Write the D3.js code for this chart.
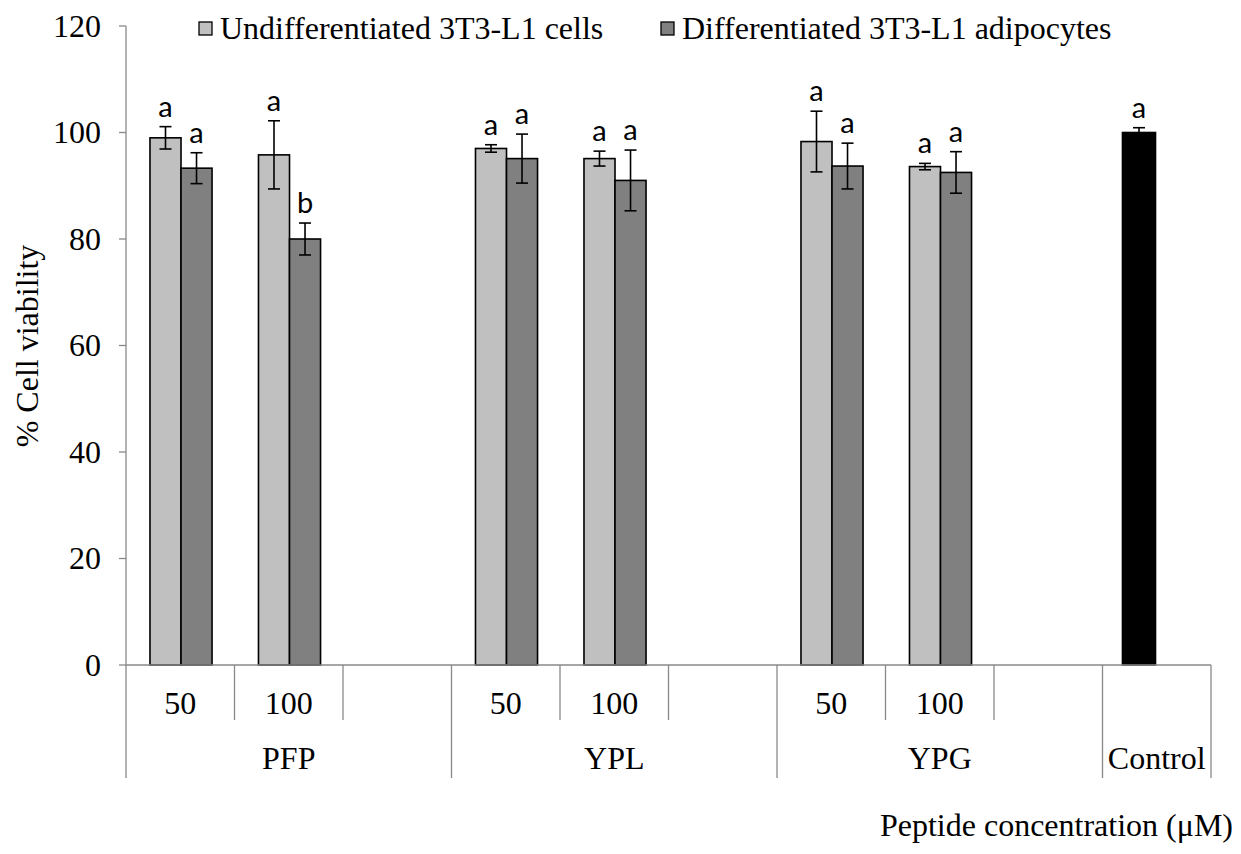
<!DOCTYPE html>
<html>
<head>
<meta charset="utf-8">
<script src="https://cdn.jsdelivr.net/npm/d3@7"></script>
<style>
  html, body { margin: 0; padding: 0; background: #fff; }
  svg { display: block; }
</style>
</head>
<body>
<svg id="chart" width="1241" height="854"></svg>
<script>
// Peptide treatments and concentrations (µM)
const peptides = ["PFP", "YPL", "YPG"];
const concentrations = ["50", "100"];
const seriesNames = ["Undifferentiated 3T3-L1 cells", "Differentiated 3T3-L1 adipocytes"];

// Mean % viability per peptide/concentration, order: PFP50, PFP100, YPL50, YPL100, YPG50, YPG100
const undiffValues = [99.0, 95.8, 97.0, 95.1, 98.3, 93.6];
const undiffErrors = [2.1, 6.4, 0.7, 1.4, 5.7, 0.6];
const undiffLetters = ["a", "a", "a", "a", "a", "a"];
const diffValues = [93.3, 80.0, 95.1, 91.0, 93.7, 92.5];
const diffErrors = [2.9, 3.0, 4.6, 5.7, 4.3, 3.9];
const diffLetters = ["a", "b", "a", "a", "a", "a"];

// Untreated control
const controlValue = 100.0;
const controlError = 0.9;
const controlLetter = "a";

const yTicks = [0, 20, 40, 60, 80, 100, 120];

const svg = d3.select("#chart");
const serif = "'Liberation Serif', 'Times New Roman', serif";
const letterFont = "Lato, 'Open Sans', sans-serif";
const axisColor = "#898989";
const fs = "32px";

const plotLeft = 126, plotRight = 1211, plotTop = 26, plotBottom = 665;

// One slot per concentration plus an empty spacer slot per peptide, then the control slot
const slots = [];
peptides.forEach(p => {
  concentrations.forEach(c => slots.push({ key: p + "-" + c, peptide: p, conc: c }));
  slots.push({ key: p + "-gap", peptide: p, conc: null });
});
slots.push({ key: "Control", peptide: "Control", conc: null });

const x = d3.scaleBand().domain(slots.map(d => d.key)).range([plotLeft, plotRight]).padding(0);
const y = d3.scaleLinear().domain([0, 120]).range([plotBottom, plotTop]);
const bw = x.bandwidth();
const inner = d3.scaleBand().domain(["u", "d"]).range([bw * 0.221, bw * 0.793]).padding(0);

// Build bar records
const bars = [];
let i = 0;
peptides.forEach(p => {
  concentrations.forEach(c => {
    const key = p + "-" + c;
    bars.push({ slot: key, s: "u", v: undiffValues[i], e: undiffErrors[i], l: undiffLetters[i], fill: "#c0c0c0" });
    bars.push({ slot: key, s: "d", v: diffValues[i], e: diffErrors[i], l: diffLetters[i], fill: "#808080" });
    i++;
  });
});
bars.push({ slot: "Control", s: "u", v: controlValue, e: controlError, l: controlLetter, fill: "#000000", control: true });

const bx = d => x(d.slot) + inner(d.s) + (d.control ? -4 : 0);
const bwid = d => inner.bandwidth() + (d.control ? 2 : 0);

// Y axis
const yAxis = svg.append("g");
yAxis.append("line")
  .attr("x1", plotLeft).attr("x2", plotLeft).attr("y1", y(120)).attr("y2", y(0))
  .attr("stroke", axisColor).attr("stroke-width", 1.3);
yAxis.selectAll("line.tick").data(yTicks).join("line").attr("class", "tick")
  .attr("x1", plotLeft - 7).attr("x2", plotLeft).attr("y1", d => y(d)).attr("y2", d => y(d))
  .attr("stroke", axisColor).attr("stroke-width", 1.3);
yAxis.selectAll("text").data(yTicks).join("text")
  .attr("x", 101).attr("y", d => y(d)).attr("dy", "0.33em")
  .attr("text-anchor", "end")
  .style("font-family", serif).style("font-size", fs).attr("fill", "#000")
  .text(d => d);

// Y axis title
svg.append("text")
  .attr("transform", "translate(38,346) rotate(-90)")
  .attr("text-anchor", "middle")
  .style("font-family", serif).style("font-size", fs)
  .text("% Cell viability");

// Bars
svg.append("g").selectAll("rect").data(bars).join("rect")
  .attr("x", bx).attr("width", bwid)
  .attr("y", d => y(d.v)).attr("height", d => y(0) - y(d.v))
  .attr("fill", d => d.fill).attr("stroke", "#000").attr("stroke-width", 1.6);

// Error bars
const eg = svg.append("g").attr("stroke", "#000").attr("stroke-width", 1.6);
bars.forEach(d => {
  const cx = bx(d) + bwid(d) / 2;
  eg.append("line").attr("x1", cx).attr("x2", cx).attr("y1", y(d.v + d.e)).attr("y2", y(d.v - d.e));
  eg.append("line").attr("x1", cx - 6).attr("x2", cx + 6).attr("y1", y(d.v + d.e)).attr("y2", y(d.v + d.e));
  eg.append("line").attr("x1", cx - 6).attr("x2", cx + 6).attr("y1", y(d.v - d.e)).attr("y2", y(d.v - d.e));
});

// Significance letters
svg.append("g").selectAll("text").data(bars).join("text")
  .attr("x", d => bx(d) + bwid(d) / 2)
  .attr("y", d => y(d.v + d.e) - 10)
  .attr("text-anchor", "middle")
  .style("font-family", letterFont).style("font-size", "29px").attr("fill", "#000")
  .text(d => d.l);

// X axis line
svg.append("line")
  .attr("x1", plotLeft).attr("x2", plotRight).attr("y1", plotBottom).attr("y2", plotBottom)
  .attr("stroke", axisColor).attr("stroke-width", 1.3);

// Multi-level category separators
const sep = svg.append("g").attr("stroke", axisColor).attr("stroke-width", 1.3);
const groupEdges = [plotLeft];
slots.forEach((s, k) => {
  const xe = x(s.key) + bw;
  const next = slots[k + 1];
  if (!next || next.peptide !== s.peptide) groupEdges.push(xe);
  else sep.append("line").attr("x1", xe).attr("x2", xe).attr("y1", plotBottom).attr("y2", 720);
});
groupEdges.forEach(xe => sep.append("line").attr("x1", xe).attr("x2", xe).attr("y1", plotBottom).attr("y2", 778));

// Concentration labels
svg.append("g").selectAll("text").data(slots.filter(s => s.conc)).join("text")
  .attr("x", d => x(d.key) + bw / 2).attr("y", 703).attr("dy", "0.33em")
  .attr("text-anchor", "middle")
  .style("font-family", serif).style("font-size", fs)
  .text(d => d.conc);

// Peptide group labels
const groupNames = peptides.concat(["Control"]);
svg.append("g").selectAll("text").data(groupNames).join("text")
  .attr("x", g => {
    const ks = slots.filter(s => s.peptide === g).map(s => x(s.key));
    return (d3.min(ks) + d3.max(ks) + bw) / 2;
  })
  .attr("y", 758).attr("dy", "0.33em")
  .attr("text-anchor", "middle")
  .style("font-family", serif).style("font-size", fs)
  .text(g => g);

// X axis title
svg.append("text")
  .attr("x", 1233).attr("y", 836)
  .attr("text-anchor", "end")
  .style("font-family", serif).style("font-size", fs)
  .text("Peptide concentration (μM)");

// Legend
const legendX = [199, 661];
const legendFill = ["#c0c0c0", "#808080"];
const lg = svg.append("g");
seriesNames.forEach((name, k) => {
  lg.append("rect").attr("x", legendX[k]).attr("y", 22).attr("width", 13).attr("height", 13)
    .attr("fill", legendFill[k]).attr("stroke", "#000").attr("stroke-width", 1.3);
  lg.append("text").attr("x", legendX[k] + 21).attr("y", 39)
    .style("font-family", serif).style("font-size", fs)
    .text(name);
});
</script>
</body>
</html>
